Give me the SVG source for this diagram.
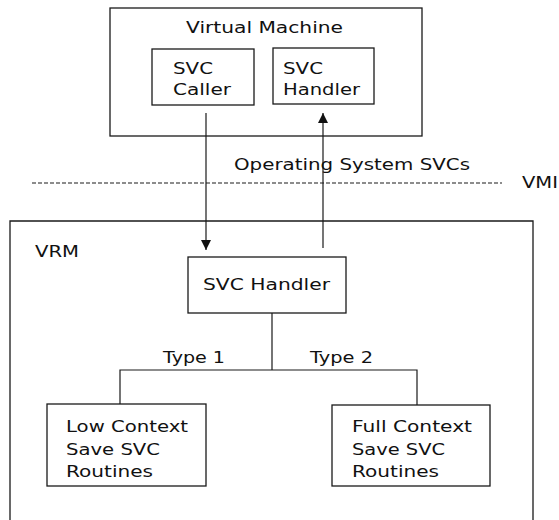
<svg xmlns="http://www.w3.org/2000/svg" width="559" height="520" viewBox="0 0 559 520">
  <style>
    .box { fill: none; stroke: #1a1a1a; stroke-width: 1.3; }
    .wire { fill: none; stroke: #1a1a1a; stroke-width: 1.2; }
    .dash { fill: none; stroke: #1a1a1a; stroke-width: 1.1; stroke-dasharray: 4 2; }
    text { font-family: "DejaVu Sans", "Liberation Sans", sans-serif; font-size: 16px; fill: #111; }
  </style>
  <defs>
    <marker id="arrow" viewBox="0 0 10 10" refX="10" refY="5" markerWidth="10" markerHeight="10" markerUnits="userSpaceOnUse" orient="auto">
      <path d="M0,0 L10,5 L0,10 Z" fill="#111"/>
    </marker>
  </defs>
  <rect width="559" height="520" fill="#ffffff"/>

  <!-- virtual machine container -->
  <g id="virtual-machine">
    <rect class="box" x="110" y="8" width="312" height="128"/>
    <text x="186" y="33" textLength="157" lengthAdjust="spacingAndGlyphs">Virtual Machine</text>
  </g>
  <g id="svc-caller">
    <rect class="box" x="152" y="49" width="102" height="56"/>
    <text x="173" y="74" textLength="40" lengthAdjust="spacingAndGlyphs">SVC</text>
    <text x="173" y="95" textLength="58" lengthAdjust="spacingAndGlyphs">Caller</text>
  </g>
  <g id="vm-svc-handler">
    <rect class="box" x="273" y="48" width="101" height="56"/>
    <text x="283" y="74" textLength="40" lengthAdjust="spacingAndGlyphs">SVC</text>
    <text x="283" y="95" textLength="77" lengthAdjust="spacingAndGlyphs">Handler</text>
  </g>

  <!-- interface boundary -->
  <g id="vmi">
    <line class="dash" x1="32" y1="183" x2="502" y2="183"/>
    <text x="522" y="188" textLength="36" lengthAdjust="spacingAndGlyphs">VMI</text>
  </g>

  <!-- resource manager container (runs past the bottom edge) -->
  <g id="vrm">
    <path class="box" d="M10,530 V221 H533 V530"/>
    <text x="35" y="257" textLength="44" lengthAdjust="spacingAndGlyphs">VRM</text>
  </g>
  <g id="vrm-svc-handler">
    <rect class="box" x="188" y="257" width="158" height="56"/>
    <text x="203" y="290" textLength="127" lengthAdjust="spacingAndGlyphs">SVC Handler</text>
  </g>
  <g id="low-context">
    <rect class="box" x="47" y="404" width="159" height="82"/>
    <text x="66" y="432" textLength="122" lengthAdjust="spacingAndGlyphs">Low Context</text>
    <text x="66" y="455" textLength="94" lengthAdjust="spacingAndGlyphs">Save SVC</text>
    <text x="66" y="477" textLength="87" lengthAdjust="spacingAndGlyphs">Routines</text>
  </g>
  <g id="full-context">
    <rect class="box" x="332" y="405" width="158" height="81"/>
    <text x="352" y="432" textLength="120" lengthAdjust="spacingAndGlyphs">Full Context</text>
    <text x="352" y="455" textLength="93" lengthAdjust="spacingAndGlyphs">Save SVC</text>
    <text x="352" y="477" textLength="87" lengthAdjust="spacingAndGlyphs">Routines</text>
  </g>

  <!-- connectors -->
  <g id="connectors">
    <line class="wire" x1="206" y1="113" x2="206" y2="250" marker-end="url(#arrow)"/>
    <line class="wire" x1="323" y1="248" x2="323" y2="113" marker-end="url(#arrow)"/>
    <text x="234" y="170" textLength="236" lengthAdjust="spacingAndGlyphs">Operating System SVCs</text>
    <path class="wire" d="M272,313 V370 M120,404 V370 H417 V405"/>
    <text x="163" y="363" textLength="62" lengthAdjust="spacingAndGlyphs">Type 1</text>
    <text x="310" y="363" textLength="63" lengthAdjust="spacingAndGlyphs">Type 2</text>
  </g>
</svg>
